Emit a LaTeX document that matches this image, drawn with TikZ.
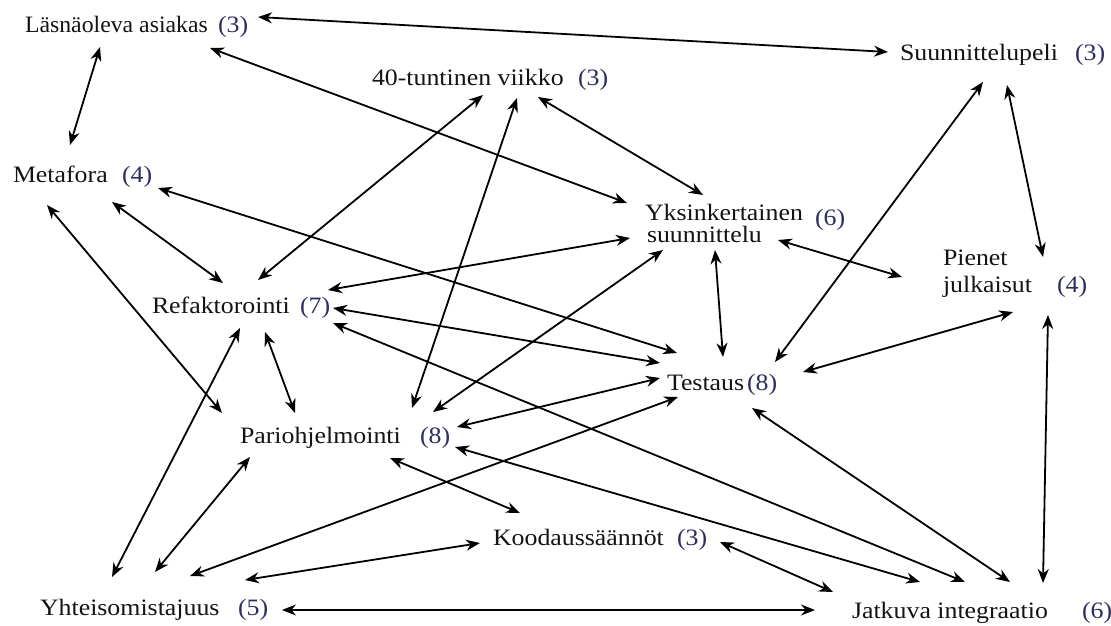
\documentclass[tikz,border=0pt]{standalone}
\usepackage{fontspec}
\setmainfont{Liberation Serif}[FakeStretch=1.1]
\usetikzlibrary{arrows.meta}
\definecolor{numcol}{RGB}{45,45,95}
\definecolor{inkcol}{RGB}{20,20,20}
\tikzset{
  concept/.style={anchor=base west, inner sep=0pt, outer sep=0pt,
    font=\fontsize{23.5}{26}\selectfont, text=inkcol},
  count/.style={concept, text=numcol},
  link/.style={line width=1.8pt, draw=black,
    {Stealth[length=14pt,width=11pt]}-{Stealth[length=14pt,width=11pt]}}
}
% double-headed connector between points placed relative to two labels
\newcommand\pairlink[4]{\draw[link] ([shift={(#2)}]#1.base west) -- ([shift={(#4)}]#3.base west);}
\begin{document}
\begin{tikzpicture}[x=1pt,y=-1pt]
\useasboundingbox[fill=white] (0,0) rectangle (1111,626);

% practice labels
\node[concept] (las)  at (25,33)   {\scalebox{0.92}[1]{Läsnäoleva asiakas}};
\node[concept] (sup)  at (900,60)  {Suunnittelupeli};
\node[concept] (vii)  at (372,85)  {40-tuntinen viikko};
\node[concept] (met)  at (13,182)  {Metafora};
\node[concept] (yks)  at (645,220) {Yksinkertainen};
\node[concept] (yks2) at (647,242) {suunnittelu};
\node[concept] (pie)  at (943,265) {Pienet};
\node[concept] (pie2) at (943,292) {julkaisut};
\node[concept] (ref)  at (152,313) {Refaktorointi};
\node[concept] (tes)  at (667,390) {Testaus};
\node[concept] (par)  at (240,443) {Pariohjelmointi};
\node[concept] (koo)  at (493,545) {Koodaussäännöt};
\node[concept] (yht)  at (40,615)  {Yhteisomistajuus};
\node[concept] (jat)  at (852,618) {Jatkuva integraatio};

% connection counts
\node[count] (las-n) at (218,33)  {(3)};
\node[count] (sup-n) at (1075,60) {(3)};
\node[count] (vii-n) at (578,85)  {(3)};
\node[count] (met-n) at (122,182) {(4)};
\node[count] (yks-n) at (815,225) {(6)};
\node[count] (pie-n) at (1057,292){(4)};
\node[count] (ref-n) at (300,313) {(7)};
\node[count] (tes-n) at (747,390) {(8)};
\node[count] (par-n) at (420,443) {(8)};
\node[count] (koo-n) at (677,545) {(3)};
\node[count] (yht-n) at (238,615) {(5)};
\node[count] (jat-n) at (1082,618){(6)};

% connectors
\pairlink{las}{233,-16}{sup}{-12,-8}
\pairlink{las}{75,14}{met}{57,-37}
\pairlink{las}{185,15}{yks}{-18,-17}
\pairlink{vii}{111,10}{ref}{106,-33}
\pairlink{vii}{145,13}{par}{172,-35}
\pairlink{vii}{166,12}{yks}{58,-25}
\pairlink{sup}{83,22}{tes}{108,-28}
\pairlink{sup}{107,25}{pie}{100,-8}
\pairlink{yks2}{131,-2}{pie}{-41,12}
\pairlink{yks2}{-17,-4}{ref}{176,-23}
\pairlink{yks2}{16,8}{par}{193,-31}
\pairlink{yks2}{68,8}{tes}{56,-33}
\pairlink{met}{145,6}{tes}{10,-37}
\pairlink{met}{99,20}{ref}{71,-30}
\pairlink{met}{34,23}{par}{-18,-30}
\pairlink{ref}{181,-5}{tes}{-7,-27}
\pairlink{ref}{113,19}{par}{55,-30}
\pairlink{ref}{88,15}{yht}{72,-38}
\pairlink{ref}{181,10}{jat}{113,-36}
\pairlink{par}{217,-16}{tes}{-7,-12}
\pairlink{par}{150,15}{koo}{27,-32}
\pairlink{par}{215,4}{jat}{68,-36}
\pairlink{tes}{11,7}{yht}{150,-39}
\pairlink{tes}{85,18}{jat}{158,-36}
\pairlink{pie2}{70,20}{tes}{136,-18}
\pairlink{pie2}{105,23}{jat}{191,-35}
\pairlink{koo}{-13,-2}{yht}{205,-35}
\pairlink{koo}{227,-3}{jat}{-19,-26}
\pairlink{yht}{242,-5}{jat}{-37,-8}
\pairlink{par}{10,14}{yht}{115,-43}
\end{tikzpicture}
\end{document}
